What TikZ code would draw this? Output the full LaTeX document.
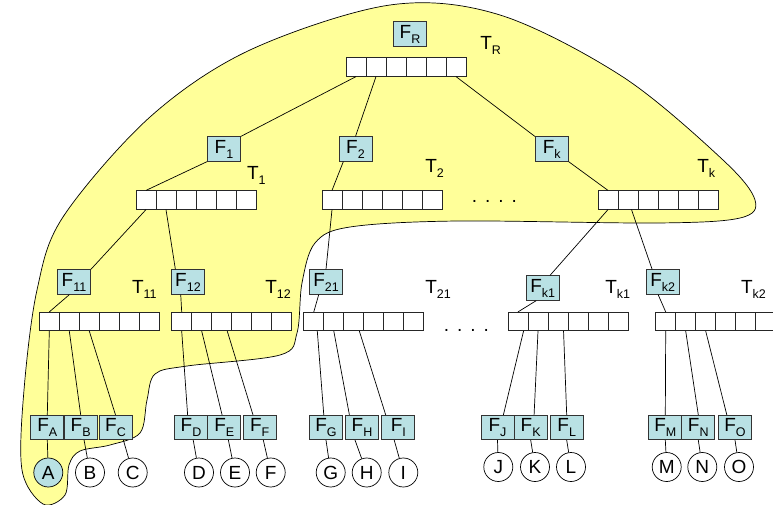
\documentclass[tikz,border=0pt]{standalone}
\usepackage{fontspec}
\setmainfont{Liberation Sans}
\definecolor{blobyellow}{RGB}{255,255,153}
\definecolor{fblue}{RGB}{185,225,228}
\newcommand{\sub}[1]{\raisebox{-5pt}{\fontsize{12.5}{12.5}\selectfont #1}}
% one array of six cells: name, x and y of its centre
\newcommand{\tarr}[3]{%
  \foreach \n in {1,...,6}
    \node[cell] (#1c\n) at ({#2+(\n-3.5)*20}, #3) {};}

\begin{document}
\begin{tikzpicture}[x=1pt, y=-1pt, line width=0.7pt,
    font=\fontsize{19}{19}\selectfont,
    fb/.style={draw=black!80, fill=fblue, minimum width=33pt, minimum height=24.5pt, inner sep=0pt},
    cell/.style={draw=black!85, fill=white, minimum width=20pt, minimum height=18.5pt, inner sep=0pt},
    leaf/.style={draw, circle, fill=white, minimum size=29pt, inner sep=0pt},
    tl/.style={anchor=base west, inner sep=0pt}]
    \useasboundingbox (0,0) rectangle (773,505);

    % the shaded part of the tree
    \draw[fill=blobyellow] plot[smooth cycle, tension=0.55] coordinates {
        (43,504) (22,470) (24,390) (37,290) (63,217) (150,117) (250,50) (390,5)
        (500,15) (623,77) (723,160) (755,200) (740,218) (657,223) (457,221)
        (350,227) (315,243) (302,283) (297,333) (280,355) (187,366) (155,374)
        (147,400) (140,433) (110,445) (80,451) (69,465) (65,495)};

    % arrays
    \tarr{tR}{406}{67}
    \tarr{t1}{196}{200}
    \tarr{t2}{382}{200}
    \tarr{tk}{658}{200}
    \tarr{t11}{99.3}{321.5}
    \tarr{t12}{231.7}{321.5}
    \tarr{t21}{363.8}{321.5}
    \tarr{tk1}{568}{321.5}
    \tarr{tk2}{715.7}{321.5}

    % file boxes
    \node[fb] at (410,34) (fR) {F\sub{R}};
    \node[fb] at (224,149) (f1) {F\sub{1}};
    \node[fb] at (355.5,149) (f2) {F\sub{2}};
    \node[fb] at (551.7,149) (fk) {F\sub{k}};
    \node[fb] at (74,282) (f11) {F\sub{11}};
    \node[fb] at (188,282) (f12) {F\sub{12}};
    \node[fb] at (326,282) (f21) {F\sub{21}};
    \node[fb] at (542.7,288) (fk1) {F\sub{k1}};
    \node[fb] at (662.7,282) (fk2) {F\sub{k2}};

    \node[fb] at (47.3,427.5) (fA) {F\sub{A}};
    \node[fb] at (80.7,427.5) (fB) {F\sub{B}};
    \node[fb] at (115.5,427.5) (fC) {F\sub{C}};
    \node[fb] at (191,427.5) (fD) {F\sub{D}};
    \node[fb] at (224.3,427.5) (fE) {F\sub{E}};
    \node[fb] at (259.7,427.5) (fF) {F\sub{F}};
    \node[fb] at (326,427.5) (fG) {F\sub{G}};
    \node[fb] at (362,427.5) (fH) {F\sub{H}};
    \node[fb] at (398.3,427.5) (fI) {F\sub{I}};
    \node[fb] at (497.5,427.5) (fJ) {F\sub{J}};
    \node[fb] at (530.7,427.5) (fK) {F\sub{K}};
    \node[fb] at (566.7,427.5) (fL) {F\sub{L}};
    \node[fb] at (665.3,427.5) (fM) {F\sub{M}};
    \node[fb] at (698.3,427.5) (fN) {F\sub{N}};
    \node[fb] at (735,427.5) (fO) {F\sub{O}};

    % leaves
    \node[leaf, fill=fblue] at (48.3,472.5) (lA) {A};
    \node[leaf] at (90,472.5) (lB) {B};
    \node[leaf] at (132.7,472.5) (lC) {C};
    \node[leaf] at (199,472.5) (lD) {D};
    \node[leaf] at (235,472.5) (lE) {E};
    \node[leaf] at (270.7,472.5) (lF) {F};
    \node[leaf] at (330.7,472.5) (lG) {G};
    \node[leaf] at (366.7,472.5) (lH) {H};
    \node[leaf] at (403.3,472.5) (lI) {I};
    \node[leaf] at (498.3,467) (lJ) {J};
    \node[leaf] at (535,467) (lK) {K};
    \node[leaf] at (571,467) (lL) {L};
    \node[leaf] at (666.7,467) (lM) {M};
    \node[leaf] at (702.3,467) (lN) {N};
    \node[leaf] at (739,467) (lO) {O};

    % tree labels
    \node[tl] at (480,50) (lblR) {T\sub{R}};
    \node[tl] at (246.7,180) (lbl1) {T\sub{1}};
    \node[tl] at (425,173) (lbl2) {T\sub{2}};
    \node[tl] at (697,173) (lblk) {T\sub{k}};
    \node[tl] at (131.7,293) (lbl11) {T\sub{11}};
    \node[tl] at (265,293) (lbl12) {T\sub{12}};
    \node[tl] at (425,293) (lbl21) {T\sub{21}};
    \node[tl] at (605,293) (lblk1) {T\sub{k1}};
    \node[tl] at (740.7,293) (lblk2) {T\sub{k2}};
    \node[tl] at (471.5,203) (dots1) {.\hspace{8pt}.\hspace{8pt}.\hspace{8pt}.};
    \node[tl] at (443.5,331) (dots2) {.\hspace{8pt}.\hspace{8pt}.\hspace{8pt}.};

    % edges
    \draw (tRc1.south) -- (f1.north east);
    \draw (tRc2.south) -- (f2.north);
    \draw (tRc6.south) -- (fk.north west);
    \draw (f1.south west) -- (t1c1.north);
    \draw (f2.226) -- (t2c1.north);
    \draw (fk.south east) -- (tkc1.north);

    \draw (t1c1.south) -- (f11.north east);
    \draw (t1c2.south) -- (f12.135);
    \draw (t2c1.south) -- (f21.north);
    \draw (tkc1.south) -- (fk1.60);
    \draw (tkc2.290) -- (fk2.130);

    \draw (f11.250) -- (t11c1.north);
    \draw (f12.240) -- (t12c1.north);
    \draw (f21.240) -- (t21c1.north);
    \draw (fk1.243) -- (tk1c1.north);
    \draw (fk2.250) -- (tk2c1.north);

    \draw (t11c1.south) -- (fA.north);
    \draw (t11c2.south) -- (fB.north);
    \draw (t11c3.south) -- (fC.north);
    \draw (t12c1.south) -- (fD.105);
    \draw (t12c2.south) -- (fE.100);
    \draw (t12c3.300) -- (fF.118);
    \draw (t21c1.290) -- (fG.100);
    \draw (t21c2.south) -- (fH.135);
    \draw (t21c3.300) -- (fI.135);
    \draw (tk1c1.300) -- (fJ.65);
    \draw (tk1c2.south) -- (fK.75);
    \draw (tk1c3.300) -- (fL.north);
    \draw (tk2c1.south) -- (fM.north);
    \draw (tk2c2.south) -- (fN.north);
    \draw (tk2c3.south) -- (fO.123);

    \draw (fA.south) -- (lA);
    \draw (fB.285) -- (lB);
    \draw (fC.302) -- (lC);
    \draw (fD.280) -- (lD);
    \draw (fE.288) -- (lE);
    \draw (fF.286) -- (lF);
    \draw (fG.south) -- (lG);
    \draw (fH.241) -- (lH);
    \draw (fI.252) -- (lI);
    \draw (fJ.south) -- (lJ);
    \draw (fK.south) -- (lK);
    \draw (fL.south) -- (lL);
    \draw (fM.south) -- (lM);
    \draw (fN.south) -- (lN);
    \draw (fO.south) -- (lO);
\end{tikzpicture}
\end{document}
